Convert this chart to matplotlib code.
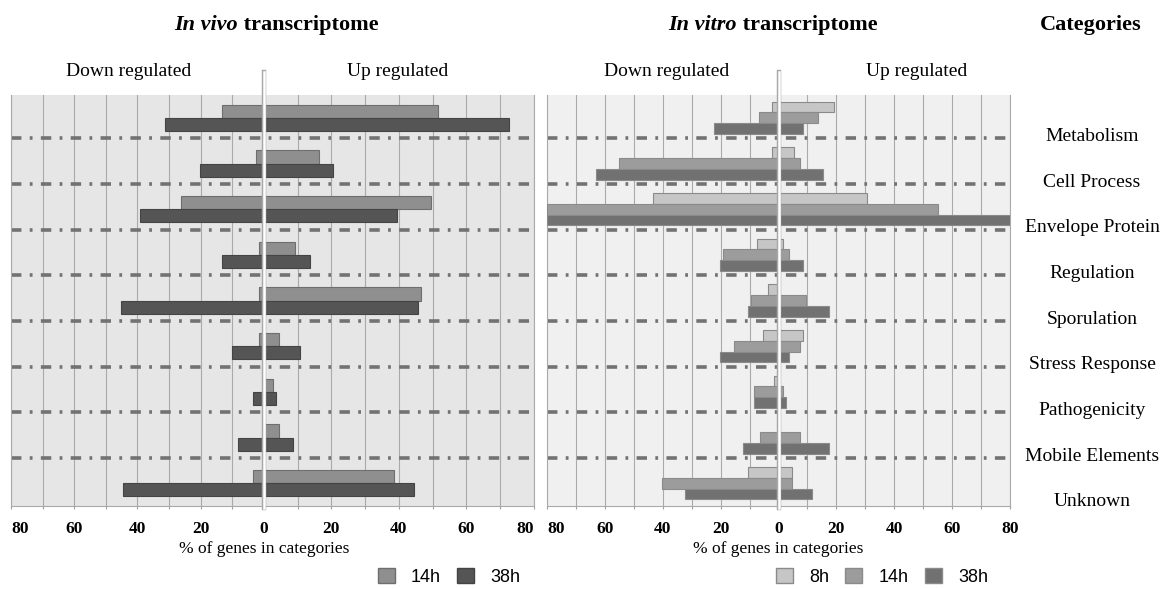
import numpy as np
import matplotlib
matplotlib.use('Agg')
import matplotlib.pyplot as plt
from matplotlib.patches import Patch
from matplotlib import transforms

plt.rcParams['font.family'] = ['Liberation Serif', 'DejaVu Serif']
plt.rcParams['lines.scale_dashes'] = False

categories = ['Metabolism', 'Cell Process', 'Envelope Protein', 'Regulation', 'Sporulation',
              'Stress Response', 'Pathogenicity', 'Mobile Elements', 'Unknown']

# in vivo transcriptome, % of genes in category (down / up regulated)
vivo_down_14h = [13.3, 2.4, 26.2, 1.4, 1.4, 1.4, 0, 0, 3.3]
vivo_up_14h = [51.6, 16.5, 49.5, 9.4, 46.5, 4.4, 2.6, 4.4, 38.5]
vivo_down_38h = [31.1, 20.1, 39.2, 13.3, 45.3, 10.2, 3.3, 8.2, 44.4]
vivo_up_38h = [72.5, 20.5, 39.5, 13.6, 45.6, 10.6, 3.6, 8.7, 44.6]

# in vitro transcriptome
vitro_down_8h = [2.3, 2.3, 43.2, 7.4, 3.5, 5.4, 1.4, 0, 10.4]
vitro_up_8h = [19.3, 5.5, 30.5, 1.5, 0, 8.6, 0, 0, 4.6]
vitro_down_14h = [6.6, 55.1, 80, 19.2, 9.4, 15.4, 8.4, 6.3, 40.2]
vitro_up_14h = [13.6, 7.6, 55.2, 3.6, 9.6, 7.6, 1.5, 7.6, 4.6]
vitro_down_38h = [22.3, 63.0, 80, 20.1, 10.4, 20.1, 8.4, 12.3, 32.2]
vitro_up_38h = [8.4, 15.5, 80, 8.4, 17.6, 3.6, 2.6, 17.6, 11.5]

tick_vals = np.arange(-80, 81, 20)
tick_labels = [str(abs(t)) for t in tick_vals]

W, H = 1162, 589
fig = plt.figure(figsize=(W / 100, H / 100), dpi=100)
fig.patch.set_facecolor('white')

ax1 = fig.add_axes([11 / W, 1 - 506 / H, 523 / W, 411 / H])
ax2 = fig.add_axes([547 / W, 1 - 506 / H, 463 / W, 411 / H])

# the left panel is stretched a bit more on the up-regulated side
kr = 270 / 252.5


def fwd(x):
    x = np.asarray(x, float)
    return np.where(x < 0, x, x * kr)


def inv(x):
    x = np.asarray(x, float)
    return np.where(x < 0, x, x / kr)


ax1.set_xscale('function', functions=(fwd, inv))

y = np.arange(len(categories))


def style_axes(ax, bg, first_ha, last_ha):
    ax.set_facecolor(bg)
    ax.set_xlim(-80, 80)
    ax.set_ylim(len(categories) - 0.5, -0.5)
    ax.set_yticks([])
    ax.set_xticks(tick_vals)
    labels = ax.set_xticklabels(tick_labels, fontweight='bold', fontsize=12.5)
    labels[0].set_ha(first_ha)
    labels[-1].set_ha(last_ha)
    ax.set_xticks(np.arange(-70, 80, 20), minor=True)
    ax.tick_params(axis='x', which='both', direction='out', length=2.5, pad=8,
                   color='#a0a0a0', width=0.8)
    ax.grid(axis='x', which='both', color='#aaaaaa', lw=0.8, zorder=0.5)
    ax.set_axisbelow(True)
    for s in ['left', 'right', 'bottom']:
        ax.spines[s].set_color('#aaaaaa')
        ax.spines[s].set_linewidth(0.8)
    ax.spines['top'].set_visible(False)
    for yy in y[:-1] + 0.45:
        ax.axhline(yy, color='#727272', lw=2.6, linestyle=(0, (7.5, 6, 2, 6)),
                   dash_capstyle='butt', zorder=2)
    ax.axvline(0, ymin=-0.005, ymax=1.055, color='#a8a8a8', lw=3.2, clip_on=False, zorder=6)
    ax.axvline(0, ymin=-0.005, ymax=1.055, color='white', lw=1.8, clip_on=False, zorder=7)
    ax.text(0, -0.105, '% of genes in categories', transform=transforms.blended_transform_factory(
        ax.transData, ax.transAxes), ha='center', va='center', fontsize=12.5)


style_axes(ax1, '#e6e6e6', 'left', 'right')
style_axes(ax2, '#f0f0f0', 'left', 'center')

edge = '#6e6e6e'
h1 = 0.29
c14, c38 = '#8f8f8f', '#555555'
ax1.barh(y - h1 / 2, vivo_up_14h, height=h1, color=c14, edgecolor=edge, lw=0.8, zorder=3)
ax1.barh(y - h1 / 2, [-v for v in vivo_down_14h], height=h1, color=c14, edgecolor=edge, lw=0.8, zorder=3)
ax1.barh(y + h1 / 2, vivo_up_38h, height=h1, color=c38, edgecolor='#444444', lw=0.8, zorder=3)
ax1.barh(y + h1 / 2, [-v for v in vivo_down_38h], height=h1, color=c38, edgecolor='#444444', lw=0.8, zorder=3)

h2 = 0.235
v8, v14, v38 = '#c6c6c6', '#9c9c9c', '#717171'
for off, up, down, col in [(-h2, vitro_up_8h, vitro_down_8h, v8),
                           (0, vitro_up_14h, vitro_down_14h, v14),
                           (h2, vitro_up_38h, vitro_down_38h, v38)]:
    ax2.barh(y + off, up, height=h2, color=col, edgecolor='#8a8a8a', lw=0.8, zorder=3)
    ax2.barh(y + off, [-v for v in down], height=h2, color=col, edgecolor='#8a8a8a', lw=0.8, zorder=3)

# category names on the right
tr = transforms.blended_transform_factory(fig.transFigure, ax2.transData)
for i, name in enumerate(categories):
    ax2.text(1092 / W, i + 0.41, name, transform=tr, ha='center', va='center', fontsize=14)

# headers
for cx, txt in [(129, 'Down regulated'), (398, 'Up regulated'),
                (667, 'Down regulated'), (917, 'Up regulated')]:
    fig.text(cx / W, 1 - 72 / H, txt, ha='center', va='center', fontsize=14)

fig.text(1091 / W, 1 - 25 / H, 'Categories', ha='center', va='center', fontsize=16, fontweight='bold')

renderer = fig.canvas.get_renderer()


def mixed_title(cx, cy, ital, rest):
    t1 = fig.text(0, 1 - cy / H, ital, fontsize=16, fontweight='bold', style='italic', va='center')
    t2 = fig.text(0, 1 - cy / H, ' ' + rest, fontsize=16, fontweight='bold', va='center')
    w1 = t1.get_window_extent(renderer).width
    w2 = t2.get_window_extent(renderer).width
    x0 = cx - (w1 + w2) / 2
    t1.set_x(x0 / W)
    t2.set_x((x0 + w1) / W)


mixed_title(276, 25, 'In vivo', 'transcriptome')
mixed_title(773, 25, 'In vitro', 'transcriptome')

# legends
leg_kw = dict(loc='center', frameon=False, handlelength=0.94, handleheight=0.94,
              handletextpad=0.9, columnspacing=0.9, prop={'family': 'Liberation Sans', 'size': 13})
fig.legend(handles=[Patch(facecolor=c14, edgecolor=edge, label='14h'),
                    Patch(facecolor=c38, edgecolor='#444444', label='38h')],
           ncol=2, bbox_to_anchor=(449 / W, 1 - 577 / H), **leg_kw)
fig.legend(handles=[Patch(facecolor=v8, edgecolor='#8a8a8a', label='8h'),
                    Patch(facecolor=v14, edgecolor='#8a8a8a', label='14h'),
                    Patch(facecolor=v38, edgecolor='#8a8a8a', label='38h')],
           ncol=3, bbox_to_anchor=(882 / W, 1 - 577 / H), **leg_kw)

fig.savefig('out.png', dpi=100)
